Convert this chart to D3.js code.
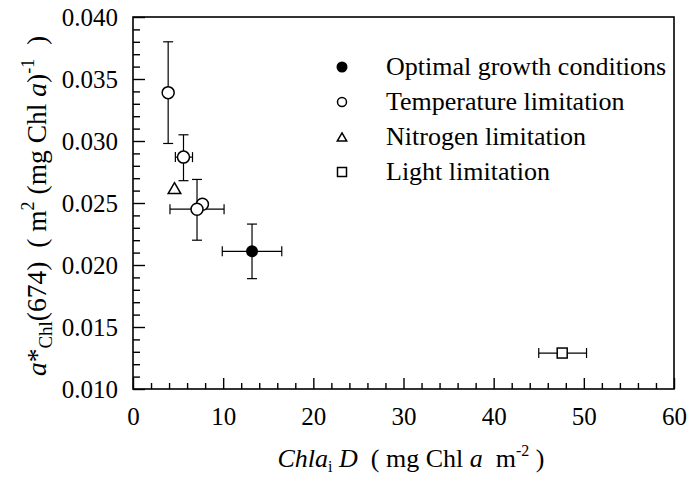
<!DOCTYPE html>
<html>
<head>
<meta charset="utf-8">
<script src="https://cdn.jsdelivr.net/npm/d3@7"></script>
<style>
  html, body { margin: 0; padding: 0; background: #fff; }
  svg { display: block; font-family: "Liberation Serif", "Times New Roman", serif; }
  svg text { font-family: "Liberation Serif", "Times New Roman", serif; }
</style>
</head>
<body>
<svg id="chart" width="688" height="477"></svg>
<script>
// ---- data ----
const legendLabels = ["Optimal growth conditions", "Temperature limitation", "Nitrogen limitation", "Light limitation"];
const legendSymbols = ["filledCircle", "openCircle", "triangle", "square"];

const pointSymbols = ["filledCircle", "openCircle", "openCircle", "openCircle", "openCircle", "triangle", "square"];
const xValues   = [13.2, 3.9, 5.6, 7.7, 7.1, 4.6, 47.6];
const yValues   = [0.0211, 0.0339, 0.0287, 0.0249, 0.0245, 0.0262, 0.0129];
const xErrLow   = [9.9, null, 4.7, null, 4.1, null, 45.0];
const xErrHigh  = [16.5, null, 6.6, null, 10.1, null, 50.3];
const yErrLow   = [0.0189, 0.0298, 0.0268, null, 0.0220, null, null];
const yErrHigh  = [0.0233, 0.0380, 0.0305, null, 0.0269, null, null];

const xTicks = [0, 10, 20, 30, 40, 50, 60];
const xTickLabels = ["0", "10", "20", "30", "40", "50", "60"];
const yTicks = [0.010, 0.015, 0.020, 0.025, 0.030, 0.035, 0.040];
const yTickLabels = ["0.010", "0.015", "0.020", "0.025", "0.030", "0.035", "0.040"];

// ---- layout ----
const L = 133, R = 674, T = 17, B = 389;
const FONT = "'Liberation Serif', 'Times New Roman', serif";
const svg = d3.select("#chart");
const x = d3.scaleLinear().domain([0, 60]).range([L, R]);
const y = d3.scaleLinear().domain([0.010, 0.040]).range([B, T]);

// frame
svg.append("rect").attr("x", L).attr("y", T).attr("width", R - L).attr("height", B - T)
  .attr("fill", "none").attr("stroke", "#000").attr("stroke-width", 1.6);

// minor ticks
const xMinor = d3.range(0, 61, 2).filter(v => v % 10 !== 0);
const yMinor = d3.range(10, 41, 1).map(v => v / 1000).filter((v, i) => i % 5 !== 0);

const xAxisMinor = d3.axisBottom(x).tickValues(xMinor).tickSize(-6).tickFormat("");
const xAxis = d3.axisBottom(x).tickValues(xTicks).tickSize(-11).tickPadding(18)
  .tickFormat((d, i) => xTickLabels[i]);
const yAxisMinor = d3.axisLeft(y).tickValues(yMinor).tickSize(-7).tickFormat("");
const yAxis = d3.axisLeft(y).tickValues(yTicks).tickSize(-12).tickPadding(15)
  .tickFormat((d, i) => yTickLabels[i]);

function styleAxis(g) {
  g.attr("font-family", null).attr("font-size", null);
  g.select(".domain").remove();
  g.selectAll("line").attr("stroke", "#000").attr("stroke-width", 1.4);
  g.selectAll("text").style("font-family", FONT).style("font-size", "25px").attr("fill", "#000");
}
svg.append("g").attr("transform", `translate(0,${B})`).call(xAxisMinor).call(styleAxis);
svg.append("g").attr("transform", `translate(0,${B})`).call(xAxis).call(styleAxis);
svg.append("g").attr("transform", `translate(${L},0)`).call(yAxisMinor).call(styleAxis);
svg.append("g").attr("transform", `translate(${L},0)`).call(yAxis).call(styleAxis);

// ---- error bars ----
const pts = xValues.map((v, i) => ({
  x: v, y: yValues[i], sym: pointSymbols[i],
  xl: xErrLow[i], xh: xErrHigh[i], yl: yErrLow[i], yh: yErrHigh[i]
}));
const cap = 5;
const eg = svg.append("g").attr("stroke", "#000").attr("stroke-width", 1.2);
pts.forEach(p => {
  if (p.xl != null) {
    eg.append("line").attr("x1", x(p.xl)).attr("x2", x(p.xh)).attr("y1", y(p.y)).attr("y2", y(p.y));
    [p.xl, p.xh].forEach(v => eg.append("line").attr("x1", x(v)).attr("x2", x(v))
      .attr("y1", y(p.y) - cap).attr("y2", y(p.y) + cap));
  }
  if (p.yl != null) {
    eg.append("line").attr("x1", x(p.x)).attr("x2", x(p.x)).attr("y1", y(p.yl)).attr("y2", y(p.yh));
    [p.yl, p.yh].forEach(v => eg.append("line").attr("y1", y(v)).attr("y2", y(v))
      .attr("x1", x(p.x) - cap).attr("x2", x(p.x) + cap));
  }
});

// ---- markers ----
function drawSymbol(g, sym, cx, cy, s) {
  if (sym === "filledCircle") {
    g.append("circle").attr("cx", cx).attr("cy", cy).attr("r", s).attr("fill", "#000");
  } else if (sym === "openCircle") {
    g.append("circle").attr("cx", cx).attr("cy", cy).attr("r", s).attr("fill", "#fff")
      .attr("stroke", "#000").attr("stroke-width", 1.5);
  } else if (sym === "triangle") {
    const h = s * 1.8, w = s * 2.1;
    g.append("path").attr("d", `M${cx},${cy - h / 2}L${cx + w / 2},${cy + h / 2}L${cx - w / 2},${cy + h / 2}Z`)
      .attr("fill", "#fff").attr("stroke", "#000").attr("stroke-width", 1.5);
  } else if (sym === "square") {
    g.append("rect").attr("x", cx - s).attr("y", cy - s).attr("width", 2 * s).attr("height", 2 * s)
      .attr("fill", "#fff").attr("stroke", "#000").attr("stroke-width", 1.5);
  }
}
const mg = svg.append("g");
pts.forEach(p => drawSymbol(mg, p.sym, x(p.x), y(p.y), p.sym === "square" ? 5 : 6));

// ---- legend ----
const lg = svg.append("g");
legendLabels.forEach((lab, i) => {
  const cy = 67 + i * 35;
  const s = legendSymbols[i] === "filledCircle" ? 5.5 : 4.5;
  drawSymbol(lg, legendSymbols[i], 342, cy, s);
  lg.append("text").attr("x", 386).attr("y", cy + 8).style("font-size", "26px").attr("fill", "#000").text(lab);
});

// ---- axis titles ----
const xt = svg.append("text").attr("x", 411).attr("y", 467).attr("text-anchor", "middle")
  .style("font-size", "26px").attr("fill", "#000").attr("xml:space", "preserve").style("white-space", "pre");
xt.append("tspan").attr("font-style", "italic").text("Chla");
xt.append("tspan").style("font-size", "16px").attr("dy", 5).text("i");
xt.append("tspan").attr("dy", -5).attr("font-style", "italic").text(" D");
xt.append("tspan").text("  ( mg Chl ");
xt.append("tspan").attr("font-style", "italic").text("a");
xt.append("tspan").text("  m");
xt.append("tspan").style("font-size", "16px").attr("dy", -11).text("-2");
xt.append("tspan").attr("dy", 11).text(" )");

const yt = svg.append("text").attr("transform", "translate(46,206) rotate(-90)")
  .attr("text-anchor", "middle").style("font-size", "27.5px").attr("fill", "#000")
  .attr("xml:space", "preserve").style("white-space", "pre");
yt.append("tspan").attr("font-style", "italic").text("a");
yt.append("tspan").text("*");
yt.append("tspan").style("font-size", "19px").attr("dy", 6).text("Chl");
yt.append("tspan").attr("dy", -6).text("(674)  ( m");
yt.append("tspan").style("font-size", "18px").attr("dy", -12).text("2");
yt.append("tspan").attr("dy", 12).text(" (mg Chl ");
yt.append("tspan").attr("font-style", "italic").text("a");
yt.append("tspan").text(")");
yt.append("tspan").style("font-size", "18px").attr("dy", -12).text("-1");
yt.append("tspan").attr("dy", 12).text("  )");
</script>
</body>
</html>
